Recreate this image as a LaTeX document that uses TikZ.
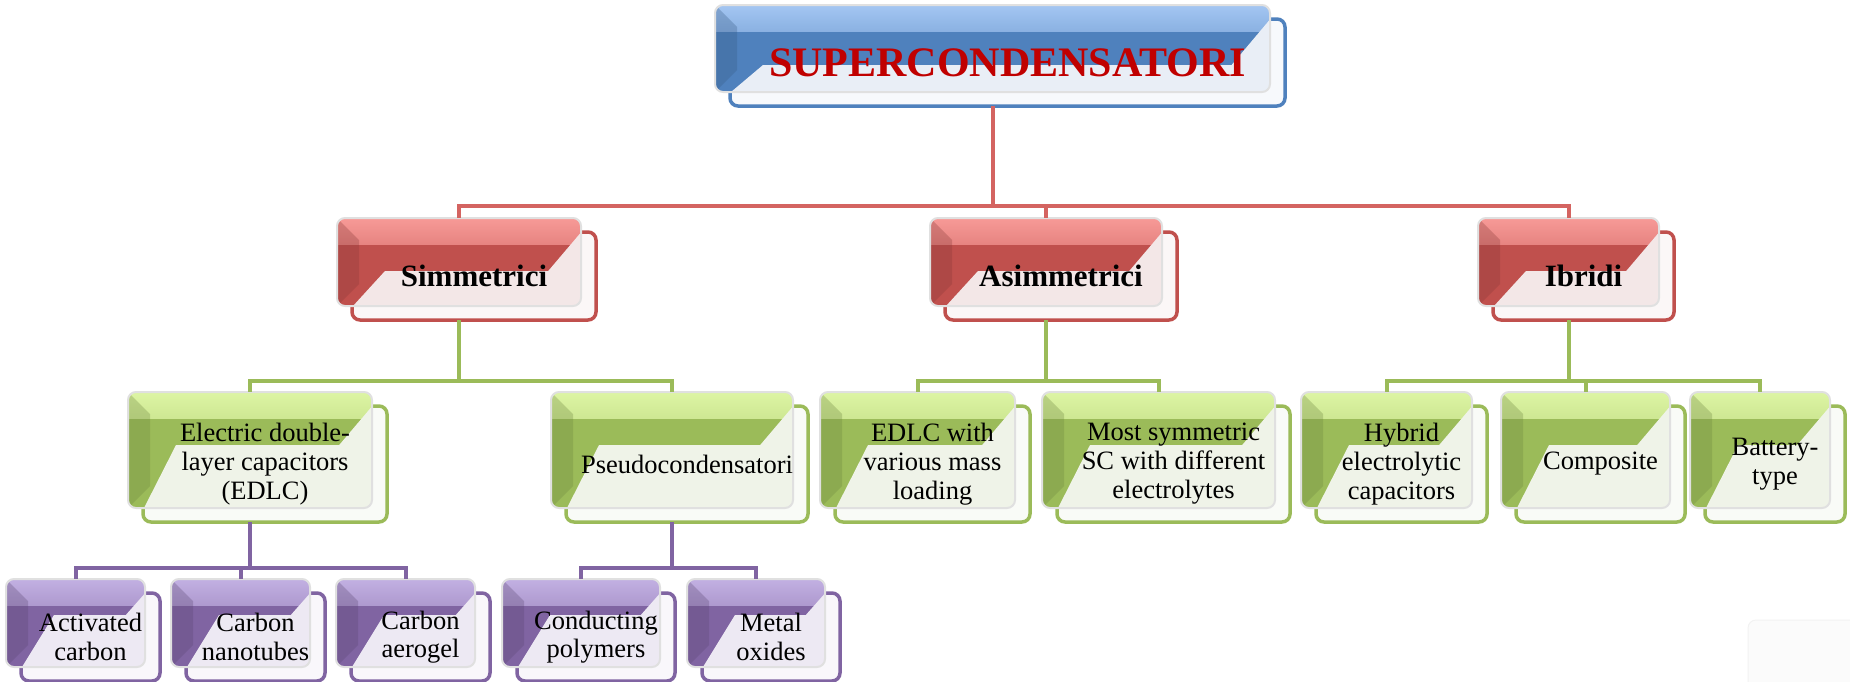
\documentclass[tikz,border=0pt]{standalone}
\usepackage{fontspec}
\setmainfont{Liberation Serif}
\usepackage{xcolor}

\definecolor{blueMain}{HTML}{4F81BD}
\definecolor{blueTop}{HTML}{A4C6F2}
\definecolor{blueSoft}{HTML}{E9EEF6}
\definecolor{redMain}{HTML}{C0504D}
\definecolor{redTop}{HTML}{F79A97}
\definecolor{redSoft}{HTML}{F3E7E7}
\definecolor{greenMain}{HTML}{9BBB59}
\definecolor{greenTop}{HTML}{DDF5A4}
\definecolor{greenSoft}{HTML}{EFF3E8}
\definecolor{violetMain}{HTML}{8064A2}
\definecolor{violetTop}{HTML}{C2B0E2}
\definecolor{violetSoft}{HTML}{EDE9F3}
\definecolor{titleRed}{HTML}{C00000}
\definecolor{redWire}{HTML}{D46461}

\begin{document}
\begin{tikzpicture}[x=1pt, y=-1pt,
  sabox/.style 2 args={rectangle, rounded corners=8pt, inner sep=0pt, outer sep=0pt, align=center,
    fill=#1Soft!35!white, draw=#1Main, line width=3.5pt,
    postaction={transform canvas={shift={(-15pt,14pt)}},
      fill=#1Main, draw=black!12, line width=2pt,
      path picture={
        \shade[top color=#1Top, bottom color=#1Main, sharp corners]
          (path picture bounding box.north west)
          rectangle ([yshift=-26pt]path picture bounding box.north east);
        \fill[#1Main!70!black, opacity=.3, sharp corners]
          (path picture bounding box.north west) -- ++(22pt,-22pt)
          -- ([xshift=22pt,yshift=22pt]path picture bounding box.south west)
          -- (path picture bounding box.south west) -- cycle;
        \fill[#1Soft, sharp corners]
          ([xshift=16pt]path picture bounding box.south west)
          -- ([xshift=48pt,yshift=-#2pt]path picture bounding box.north west)
          -- ([xshift={(12-#2)*0.8pt},yshift=-#2pt]path picture bounding box.north east)
          -- ([xshift=2pt,yshift=-12pt]path picture bounding box.north east)
          -- ([xshift=12pt,yshift=-12pt]path picture bounding box.north east)
          -- ([xshift=12pt,yshift=-12pt]path picture bounding box.south east)
          -- ([xshift=16pt,yshift=-12pt]path picture bounding box.south west) -- cycle;
      }}},
  rootbox/.style={sabox={blue}{60}, minimum height=87pt,
    font=\fontsize{42}{48}\selectfont\bfseries, text=titleRed},
  groupbox/.style={sabox={red}{53}, minimum height=88pt,
    font=\fontsize{31}{36}\selectfont\bfseries},
  typebox/.style={sabox={green}{53}, minimum height=116pt,
    font=\fontsize{26.5}{29}\selectfont},
  matbox/.style={sabox={violet}{36}, minimum height=88pt,
    font=\fontsize{26.5}{28.5}\selectfont},
  redwire/.style={draw=redWire, line width=4pt},
  greenwire/.style={draw=greenMain, line width=4pt},
  violetwire/.style={draw=violetMain, line width=4pt}
]
\useasboundingbox (0,0) rectangle (1850,681);

% radice
\node (root) [rootbox, minimum width=555pt] at (1007.5,62.5) {SUPERCONDENSATORI};

% classi
\node (sim)  [groupbox, minimum width=244pt] at (474,276) {Simmetrici};
\node (asim) [groupbox, minimum width=232pt] at (1061,276) {Asimmetrici};
\node (ibr)  [groupbox, minimum width=181pt] at (1583.5,276) {Ibridi};

% tipi
\node (edlc)   [typebox, minimum width=244pt] at (265,464) {Electric double-\\layer capacitors\\(EDLC)};
\node (pseudo) [typebox, minimum width=242pt] at (687,464) {Pseudocondensatori};
\node (mass)   [typebox, minimum width=195pt] at (932.5,464) {EDLC with\\various mass\\loading};
\node (elec)   [typebox, minimum width=233pt] at (1173.5,464) {Most symmetric\\SC with different\\electrolytes};
\node (hyb)    [typebox, minimum width=171pt] at (1401.5,464) {Hybrid\\electrolytic\\capacitors};
\node (comp)   [typebox, minimum width=169pt] at (1600.5,464) {Composite};
\node (batt)   [typebox, minimum width=140pt] at (1775,464) {Battery-\\type};

% materiali
\node (act)   [matbox, minimum width=139pt] at (90.5,637) {Activated\\carbon};
\node (tubes) [matbox, minimum width=139pt] at (255.5,637) {Carbon\\nanotubes};
\node (aero)  [matbox, minimum width=139pt] at (420.5,637) {Carbon\\aerogel};
\node (poly)  [matbox, minimum width=158pt] at (596,637) {Conducting\\polymers};
\node (oxi)   [matbox, minimum width=138pt] at (771,637) {Metal\\oxides};

% collegamenti
\draw [redwire] ([xshift=-15pt]root.south) -- ++(0,100) -| ([xshift=-15pt,yshift=14pt]sim.north);
\draw [redwire] ([xshift=-15pt]root.south) -- ++(0,100) -| ([xshift=-15pt,yshift=14pt]asim.north);
\draw [redwire] ([xshift=-15pt]root.south) -- ++(0,100) -| ([xshift=-15pt,yshift=14pt]ibr.north);

\draw [greenwire] ([xshift=-15pt]sim.south) -- ++(0,61) -| ([xshift=-15pt,yshift=14pt]edlc.north);
\draw [greenwire] ([xshift=-15pt]sim.south) -- ++(0,61) -| ([xshift=-15pt,yshift=14pt]pseudo.north);
\draw [greenwire] ([xshift=-15pt]asim.south) -- ++(0,61) -| ([xshift=-15pt,yshift=14pt]mass.north);
\draw [greenwire] ([xshift=-15pt]asim.south) -- ++(0,61) -| ([xshift=-15pt,yshift=14pt]elec.north);
\draw [greenwire] ([xshift=-15pt]ibr.south) -- ++(0,61) -| ([xshift=-15pt,yshift=14pt]hyb.north);
\draw [greenwire] ([xshift=-15pt]ibr.south) -- ++(0,61) -| ([xshift=-15pt,yshift=14pt]comp.north);
\draw [greenwire] ([xshift=-15pt]ibr.south) -- ++(0,61) -| ([xshift=-15pt,yshift=14pt]batt.north);

\draw [violetwire] ([xshift=-15pt]edlc.south) -- ++(0,46) -| ([xshift=-15pt,yshift=14pt]act.north);
\draw [violetwire] ([xshift=-15pt]edlc.south) -- ++(0,46) -| ([xshift=-15pt,yshift=14pt]tubes.north);
\draw [violetwire] ([xshift=-15pt]edlc.south) -- ++(0,46) -| ([xshift=-15pt,yshift=14pt]aero.north);
\draw [violetwire] ([xshift=-15pt]pseudo.south) -- ++(0,46) -| ([xshift=-15pt,yshift=14pt]poly.north);
\draw [violetwire] ([xshift=-15pt]pseudo.south) -- ++(0,46) -| ([xshift=-15pt,yshift=14pt]oxi.north);

% traccia chiara in basso a destra
\draw [black!5, fill=black!1.5, rounded corners=8pt, line width=1pt] (1748,620) rectangle (1880,700);

\end{tikzpicture}
\end{document}
